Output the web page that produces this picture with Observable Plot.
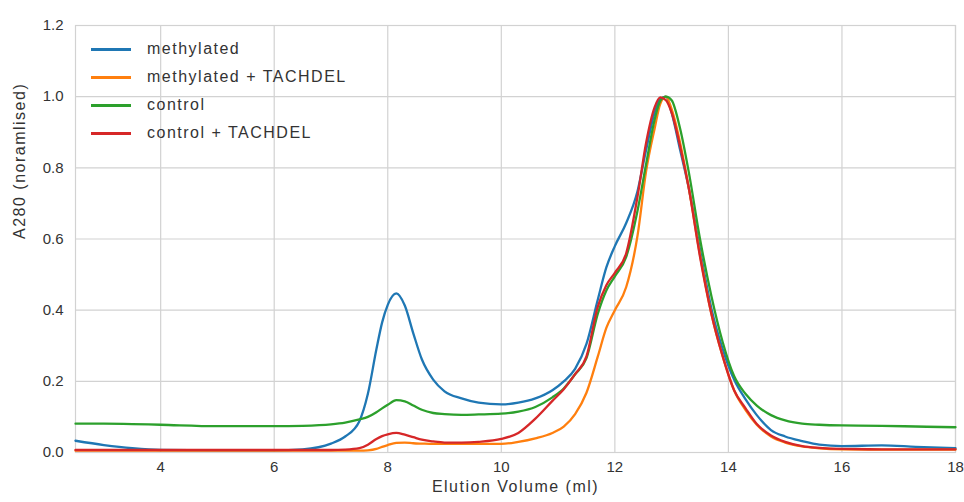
<!DOCTYPE html>
<html><head><meta charset="utf-8">
<script src="https://cdn.jsdelivr.net/npm/d3@7"></script>
<script src="https://cdn.jsdelivr.net/npm/@observablehq/plot@0.6"></script>
<style>
body{margin:0;background:#fff;}
#wrap{position:relative;width:964px;height:502px;}
#legend{position:absolute;left:91px;top:35px;font-family:"Liberation Sans",Arial,sans-serif;font-size:16px;color:#333;letter-spacing:1.5px;}
.row{display:flex;align-items:center;height:28px;}
.sw{width:40px;height:3px;margin-right:16px;}
</style></head><body><div id="wrap"></div>
<script>
// Elution volume (ml) sample points
const volume = [2.5, 3, 3.5, 4, 5, 6, 6.5,
  7, 7.25, 7.5, 7.65, 7.8, 7.9,
  8.0, 8.15, 8.3, 8.45, 8.6, 8.8,
  9.0, 9.3, 9.6,
  10, 10.3, 10.6, 10.9,
  11.1, 11.3, 11.5, 11.7, 11.85,
  12.0, 12.2, 12.4, 12.55, 12.7, 12.8, 12.9,
  13.0, 13.15, 13.3, 13.5, 13.7, 13.9,
  14.1, 14.3, 14.5, 14.75,
  15.0, 15.3, 15.6,
  16, 16.7, 17.3, 18];

const methylated = [0.033, 0.021, 0.012, 0.007, 0.006, 0.006, 0.009,
  0.025, 0.045, 0.088, 0.165, 0.29, 0.365,
  0.415, 0.447, 0.413, 0.335, 0.262, 0.205,
  0.172, 0.152, 0.14,
  0.135, 0.14, 0.152, 0.175,
  0.2, 0.235, 0.305, 0.43, 0.52,
  0.58, 0.645, 0.735, 0.85, 0.955, 0.993, 1.0,
  0.955, 0.85, 0.745, 0.57, 0.405, 0.29,
  0.205, 0.15, 0.105, 0.063,
  0.045, 0.032, 0.022,
  0.018, 0.02, 0.016, 0.012];

const methylatedTachdel = [0.005, 0.005, 0.005, 0.005, 0.005, 0.005, 0.005,
  0.005, 0.005, 0.005, 0.006, 0.01, 0.016,
  0.021, 0.027, 0.028, 0.026, 0.025, 0.024,
  0.024, 0.024, 0.024,
  0.024, 0.03, 0.04, 0.055,
  0.073, 0.108, 0.168, 0.27, 0.35,
  0.40, 0.465, 0.61, 0.79, 0.91, 0.98, 1.0,
  0.965, 0.87, 0.745, 0.555, 0.39, 0.27,
  0.175, 0.12, 0.078, 0.045,
  0.028, 0.017, 0.012,
  0.009, 0.008, 0.008, 0.008];

const control = [0.081, 0.081, 0.08, 0.078, 0.074, 0.074, 0.075,
  0.079, 0.084, 0.093, 0.1, 0.113, 0.124,
  0.134, 0.147, 0.144, 0.132, 0.12, 0.111,
  0.108, 0.106, 0.107,
  0.109, 0.115, 0.128, 0.155,
  0.18, 0.22, 0.265, 0.39, 0.455,
  0.495, 0.55, 0.68, 0.81, 0.935, 0.988, 1.0,
  0.99, 0.91, 0.79, 0.60, 0.44, 0.31,
  0.215, 0.165, 0.132, 0.105,
  0.09, 0.081, 0.078,
  0.076, 0.075, 0.073, 0.071];

const controlTachdel = [0.007, 0.007, 0.007, 0.007, 0.007, 0.007, 0.007,
  0.007, 0.008, 0.012, 0.022, 0.038, 0.046,
  0.051, 0.055, 0.05, 0.043, 0.036, 0.031,
  0.028, 0.028, 0.03,
  0.038, 0.055, 0.095, 0.145,
  0.178, 0.22, 0.27, 0.41, 0.47,
  0.505, 0.56, 0.72, 0.87, 0.97, 0.998, 0.99,
  0.955, 0.86, 0.745, 0.55, 0.39, 0.27,
  0.175, 0.125, 0.08, 0.048,
  0.03, 0.018, 0.013,
  0.01, 0.009, 0.009, 0.009];

const seriesNames = ["methylated", "methylated + TACHDEL", "control", "control + TACHDEL"];
const seriesValues = [methylated, methylatedTachdel, control, controlTachdel];
const seriesColors = ["#1f77b4", "#ff7f0e", "#2ca02c", "#d62728"];

const xTicks = [4, 6, 8, 10, 12, 14, 16, 18];
const yTicks = [0, 0.2, 0.4, 0.6, 0.8, 1.0, 1.2];
const xLabel = "Elution Volume (ml)";
const yLabel = "A280 (noramlised)";

const rows = [];
seriesNames.forEach((name, i) => {
  volume.forEach((v, j) => rows.push({series: name, volume: v, a280: seriesValues[i][j]}));
});

const gridColor = "#d2d2d2";
const chart = Plot.plot({
  width: 964, height: 502,
  marginLeft: 75, marginRight: 9, marginTop: 25, marginBottom: 50,
  style: {fontFamily: "Liberation Sans, Arial, sans-serif", fontSize: "15px", color: "#333", background: "#fff"},
  x: {domain: [2.5, 18]},
  y: {domain: [0, 1.2]},
  color: {domain: seriesNames, range: seriesColors},
  marks: [
    Plot.gridX(xTicks, {stroke: gridColor, strokeOpacity: 1, strokeWidth: 1.2}),
    Plot.gridY(yTicks, {stroke: gridColor, strokeOpacity: 1, strokeWidth: 1.2}),
    Plot.frame({stroke: gridColor, strokeWidth: 1.2}),
    Plot.axisX(xTicks, {tickSize: 0, tickPadding: 9, label: null, fontSize: 15}),
    Plot.axisY(yTicks, {tickSize: 0, tickPadding: 12, tickFormat: d3.format(".1f"), label: null, fontSize: 15}),
    Plot.line(rows, {x: "volume", y: "a280", z: "series", stroke: "series", strokeWidth: 2.3, curve: "monotone-x"}),
    Plot.text([xLabel], {text: d => d, frameAnchor: "bottom", dy: 39, fontSize: 16, fill: "#333"}),
    Plot.text([yLabel], {text: d => d, frameAnchor: "left", dx: -56, rotate: -90, fontSize: 16, fill: "#333"})
  ]
});
d3.select(chart).selectAll('g[aria-label="text"] text').attr("letter-spacing", "1.5px");

const wrap = document.getElementById("wrap");
wrap.appendChild(chart);
const legend = document.createElement("div");
legend.id = "legend";
seriesNames.forEach((name, i) => {
  const row = document.createElement("div");
  row.className = "row";
  const sw = document.createElement("div");
  sw.className = "sw";
  sw.style.background = seriesColors[i];
  const label = document.createElement("span");
  label.textContent = name;
  row.appendChild(sw);
  row.appendChild(label);
  legend.appendChild(row);
});
wrap.appendChild(legend);
</script>
</body></html>
